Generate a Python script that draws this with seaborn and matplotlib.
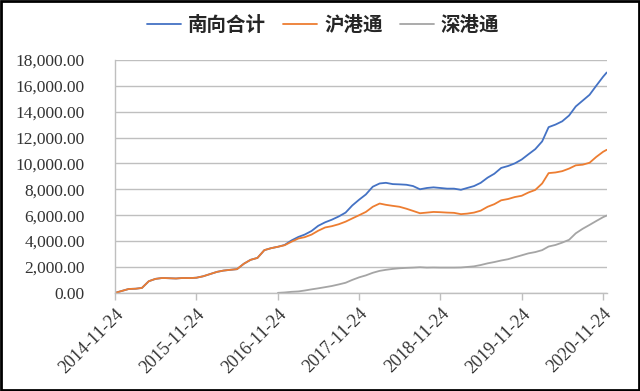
import pandas as pd
import matplotlib.pyplot as plt
import matplotlib.ticker as mticker
from matplotlib.patches import Rectangle
import seaborn as sns

# monthly readings (24th of each month), plus the last day shown
dates = list(pd.date_range('2014-11-24', periods=73, freq=pd.DateOffset(months=1))) + [pd.Timestamp('2020-12-10')]

# 沪港通
sh = [0, 150, 300, 320, 380, 900, 1080, 1150, 1130, 1110, 1150, 1140,
      1170, 1280, 1450, 1620, 1720, 1780, 1830, 2250, 2550, 2700, 3300, 3450,
      3560, 3680, 3950, 4200, 4300, 4500, 4800, 5050, 5150, 5300, 5500, 5750,
      6000, 6250, 6650, 6900, 6800, 6720, 6650, 6500, 6330, 6150, 6200, 6250,
      6230, 6200, 6180, 6080, 6120, 6200, 6350, 6650, 6850, 7150, 7250, 7400,
      7500, 7750, 7950, 8450, 9250, 9300, 9400, 9600, 9850, 9900, 10050, 10500,
      10900, 11050]

# 深港通 (starts Dec 2016)
sz = [None] * 24 + [0, 30, 80, 110, 180, 270, 350, 440, 530, 650, 780, 1000,
      1200, 1350, 1550, 1700, 1780, 1850, 1900, 1930, 1950, 1980, 1950, 1960,
      1950, 1950, 1950, 1960, 2000, 2050, 2150, 2280, 2380, 2500, 2600, 2750,
      2900, 3050, 3150, 3300, 3580, 3700, 3880, 4100, 4600, 4950, 5250, 5550,
      5850, 5970]

# 南向合计
total = sh[:25] + [3700, 4050, 4320, 4500, 4780, 5180, 5450, 5650, 5900, 6200, 6750,
      7200, 7600, 8200, 8450, 8500, 8400, 8380, 8350, 8250, 8000, 8100, 8150,
      8100, 8050, 8050, 7960, 8100, 8250, 8500, 8900, 9200, 9650, 9800, 10000,
      10300, 10700, 11100, 11700, 12800, 13000, 13250, 13700, 14400, 14850, 15300, 16000,
      16700, 17020]

series = ['南向合计', '沪港通', '深港通']
colors = ['#4472C4', '#ED7D31', '#A5A5A5']

df = pd.concat([
    pd.DataFrame({'date': dates, 'value': vals, 'series': name})
    for name, vals in zip(series, [total, sh, sz])
]).dropna()

sns.set_theme(style='white')
plt.rcParams['font.family'] = ['Liberation Serif', 'Noto Sans CJK SC', 'DejaVu Sans']

fig = plt.figure(figsize=(6.4, 3.91), dpi=100)
ax = fig.add_axes([0.18, 0.251, 0.768, 0.596])

sns.lineplot(data=df, x='date', y='value', hue='series', hue_order=series,
             palette=colors, linewidth=1.3, ax=ax)

ax.set_ylim(0, 18000)
ax.set_xlim(pd.Timestamp('2014-11-24'), pd.Timestamp('2020-12-10'))
ax.yaxis.set_major_locator(mticker.MultipleLocator(2000))
ax.yaxis.set_major_formatter(mticker.FuncFormatter(lambda v, p: f'{v:,.2f}'))
ticks = [pd.Timestamp(f'{y}-11-24') for y in range(2014, 2021)]
ax.set_xticks(ticks)
ax.set_xticklabels([t.strftime('%Y-%m-%d') for t in ticks], rotation=45,
                   ha='right', rotation_mode='anchor', fontsize=13, color='#333333')
ax.tick_params(axis='y', labelsize=12.5, labelcolor='#333333', length=0, pad=22)
ax.tick_params(axis='x', length=5, width=1, color='#bfbfbf', bottom=True, pad=4)
ax.set_xlabel('')
ax.set_ylabel('')
ax.grid(axis='y', color='#bfbfbf', linewidth=1)
for s in ['top', 'right']:
    ax.spines[s].set_visible(False)
for s in ['left', 'bottom']:
    ax.spines[s].set_color('#bfbfbf')
    ax.spines[s].set_linewidth(1)

handles, labels = ax.get_legend_handles_labels()
ax.get_legend().remove()
leg = fig.legend(handles, labels, loc='center', bbox_to_anchor=(0.505, 0.935), ncol=3,
                 frameon=False, handlelength=1.75, handletextpad=0.35, columnspacing=0.9,
                 prop={'family': ['Noto Sans CJK SC'], 'size': 14, 'weight': 'bold'})
for t in leg.get_texts():
    t.set_color('#262626')

fig.patches.append(Rectangle((0.002, 0.003), 0.996, 0.994, transform=fig.transFigure,
                             fill=False, edgecolor='black', linewidth=2))

fig.savefig('out.png', dpi=100)
